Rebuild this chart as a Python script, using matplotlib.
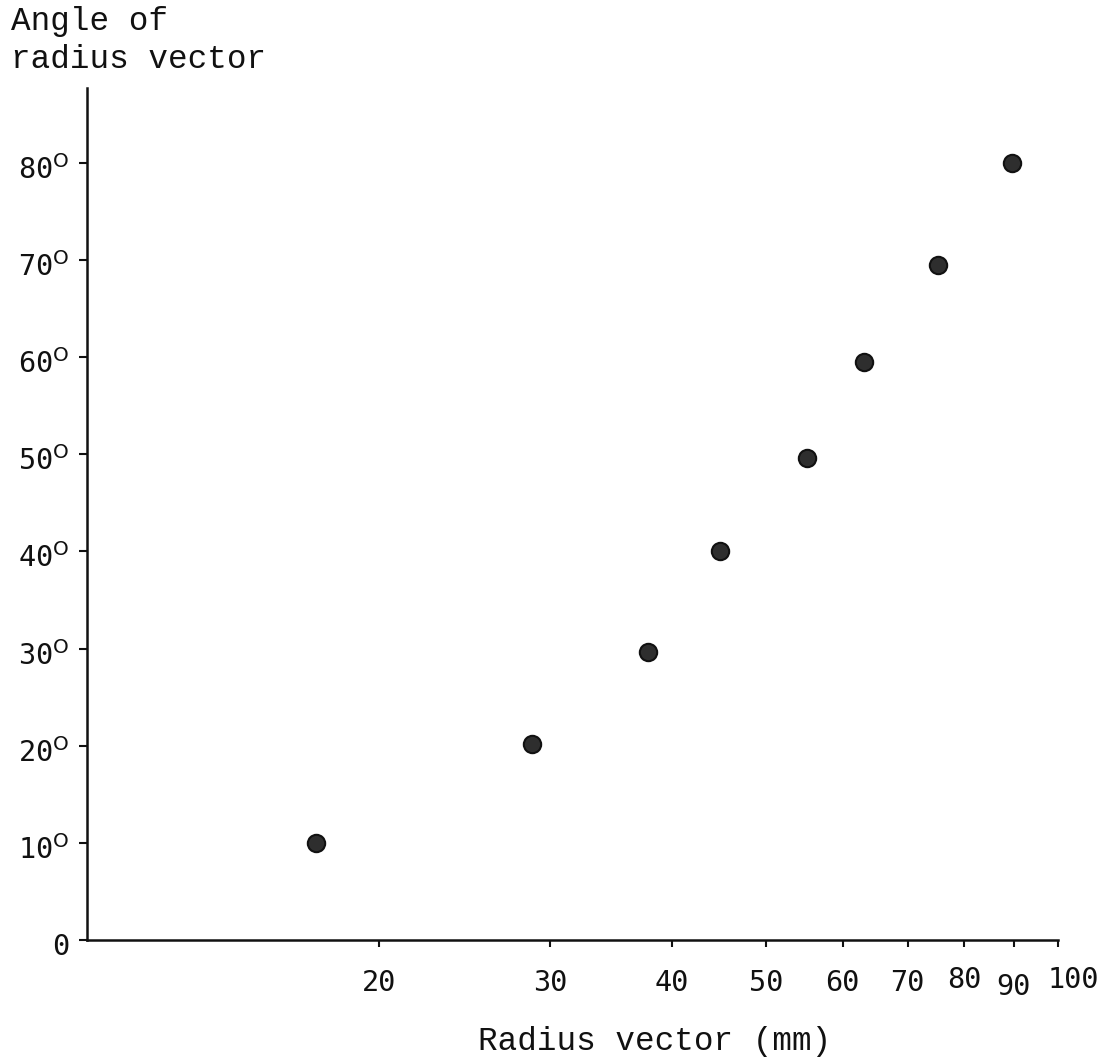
import matplotlib
matplotlib.use("Agg")
import matplotlib.pyplot as plt
import matplotlib.transforms as mtransforms
from matplotlib.ticker import FixedLocator, NullLocator

radius_mm = [17.2, 28.7, 37.8, 44.9, 55.1, 63.1, 75.2, 89.6]
angle_deg = [10, 20.2, 29.6, 40, 49.6, 59.5, 69.5, 80]

x_ticks = [20, 30, 40, 50, 60, 70, 80, 90, 100]
x_tick_labels = ["20", "30", "40", "50", "60", "70", "80", "90", "100"]
y_ticks = [0, 10, 20, 30, 40, 50, 60, 70, 80]
y_tick_labels = ["0"] + [f"{v}$^{{\\mathsf{{O}}}}$" for v in y_ticks[1:]]

plt.rcParams['mathtext.fontset'] = 'dejavusans'

W, H = 1111, 1057
fig = plt.figure(figsize=(W/100, H/100), dpi=100)
ax = fig.add_axes([87/W, 1 - 940/H, (1058-87)/W, (940-88)/H])

ax.plot(radius_mm, angle_deg, linestyle='none', marker='o', markersize=12.5,
        markerfacecolor='#2e2e2e', markeredgecolor='#111111', markeredgewidth=1.5)

ax.set_xscale('log')
ax.set_xlim(10, 100)
ax.set_ylim(0, 87.7)

ax.xaxis.set_major_locator(FixedLocator(x_ticks))
ax.xaxis.set_minor_locator(NullLocator())
ax.set_xticklabels(x_tick_labels)
ax.set_yticks(y_ticks)
ax.set_yticklabels(y_tick_labels)

for s in ['top', 'right']:
    ax.spines[s].set_visible(False)
for s in ['left', 'bottom']:
    ax.spines[s].set_linewidth(1.8)
    ax.spines[s].set_color('#111111')

ax.tick_params(axis='x', length=5, width=1.5, pad=16, labelsize=20.5,
               colors='#111111')
ax.tick_params(axis='y', length=6, width=1.5, pad=7, labelsize=20.5,
               colors='#111111')
for lbl in ax.get_xticklabels() + ax.get_yticklabels():
    lbl.set_fontfamily('DejaVu Sans Mono')

def shift(lbl, dx_px, dy_px):
    off = mtransforms.ScaledTranslation(dx_px/100, dy_px/100, fig.dpi_scale_trans)
    lbl.set_transform(lbl.get_transform() + off)

# y tick labels sit slightly below their tick marks in the reference
for lbl in ax.get_yticklabels():
    shift(lbl, 0, -4)
# typewriter-style irregular x labels
xl = ax.get_xticklabels()
shift(xl[6], 0, 3)    # 80
shift(xl[7], 0, -4)   # 90
shift(xl[8], 15, 3)   # 100

fig.text(655/W, 1 - 1050/H, "Radius vector (mm)", ha='center', va='baseline',
         fontsize=23.5, family='Liberation Mono', color='#111111')
fig.text(11/W, 1 - 30/H, "Angle of", ha='left', va='baseline',
         fontsize=23.5, family='Liberation Mono', color='#111111')
fig.text(11/W, 1 - 68/H, "radius vector", ha='left', va='baseline',
         fontsize=23.5, family='Liberation Mono', color='#111111')

fig.savefig("out.png", dpi=100)
